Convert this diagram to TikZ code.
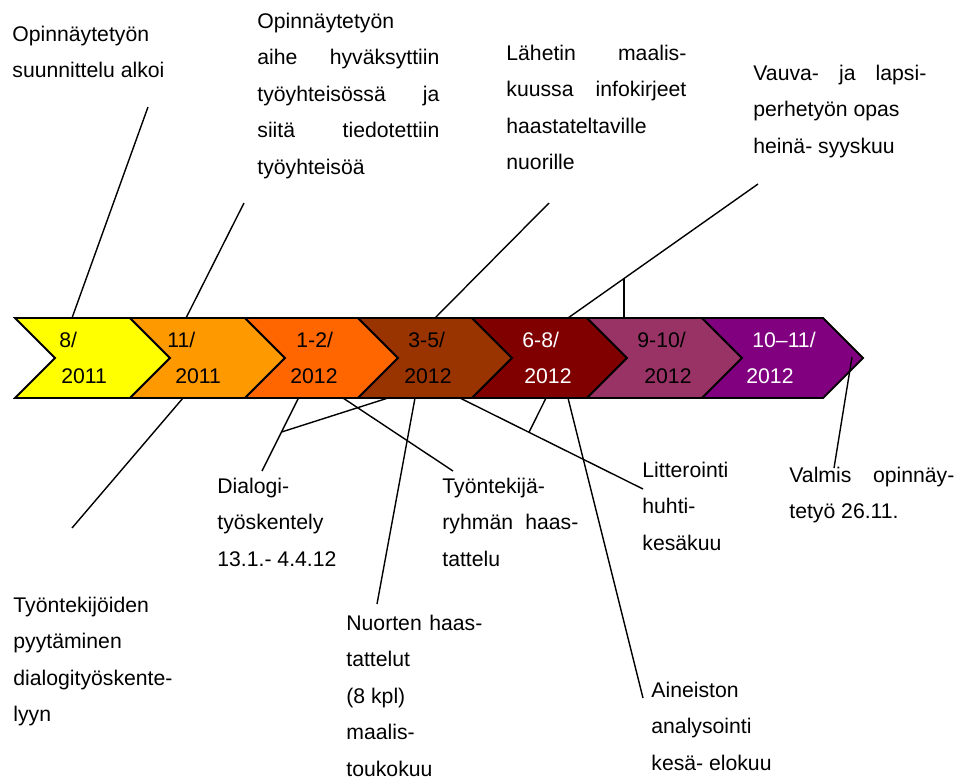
\documentclass[tikz,border=0pt]{standalone}
\usepackage{fontspec}
\setmainfont{Liberation Sans}
\usepackage{tikz}
\usetikzlibrary{calc}
\definecolor{chevA}{HTML}{FFFF00}
\definecolor{chevB}{HTML}{FF9900}
\definecolor{chevC}{HTML}{FF6600}
\definecolor{chevD}{HTML}{993300}
\definecolor{chevE}{HTML}{800000}
\definecolor{chevF}{HTML}{993366}
\definecolor{chevG}{HTML}{800080}
\newcommand\notefont{\fontsize{10.6}{18.25}\selectfont\tolerance=10000\hyphenpenalty=10000}
\tikzset{
	chevron/.style={draw=black, line width=0.9pt, line join=miter},
	datetext/.style={anchor=base west, inner sep=0pt, font=\notefont},
	note/.style={anchor=base west, inner sep=0pt, text width=#1, align=justify, font=\notefont},
	note/.default=90pt,
	link/.style={draw=black, line width=0.7pt},
}

\begin{document}
\begin{tikzpicture}[x=0.5pt, y=-0.5pt]
\useasboundingbox (0,0) rectangle (958,778);
% time band
\foreach \xl/\xr/\col in {15/130/chevA, 130/245/chevB, 245/358/chevC, 358/472/chevD, 472/587/chevE, 587/702/chevF, 702/823/chevG}
	\draw[chevron, fill=\col] (\xl,318) -- (\xr,318) -- (\xr+40,358) -- (\xr,398) -- (\xl,398) -- (\xl+40,358) -- cycle;
\foreach \xa/\ta/\xb/\tb/\tc [count=\i] in {59/{8/}/61/2011/black, 167/{11/}/175/2011/black, 296/{1-2/}/290/2012/black, 408/{3-5/}/404/2012/black, 522/{6-8/}/524/2012/white, 637/{9-10/}/644/2012/black, 752/{10–11/}/746/2012/white}{
	\node[datetext, text=\tc] (top\i) at (\xa,347) {\ta};
	\node[datetext, text=\tc] (bot\i) at (\xb,383) {\tb};
}

\node[note] (plan) at (12,41) {Opinnäytetyön\\ suunnittelu alkoi};
\node[note=91pt] (topic) at (257,28) {Opinnäytetyön\\ aihe hyväksyttiin\linebreak työyhteisössä ja\linebreak siitä tiedotettiin\linebreak työyhteisöä};
\node[note=90pt] (letters) at (506,60) {Lähetin maalis-\linebreak kuussa infokirjeet\linebreak haastateltaville\\ nuorille};
\node[note=86.5pt] (guide) at (753,80) {Vauva- ja lapsi-\linebreak perhetyön opas\\ heinä- syyskuu};
\node[note] (staff) at (13,612) {Työntekijöiden\\ pyytäminen\\ dialogityöskente-\\ lyyn};
\node[note] (dialog) at (217,493) {Dialogi-\\ työskentely\\ 13.1.- 4.4.12};
\node[note=68pt] (group) at (442,493) {Työntekijä-\\ ryhmän haas-\linebreak tattelu};
\node[note=68pt] (youth) at (346,630) {Nuorten haas-\linebreak tattelut\\ (8 kpl)\\ maalis-\\ toukokuu};
\node[note] (transcr) at (642,477) {Litterointi\\ huhti-\\ kesäkuu};
\node[note] (analysis) at (651,697) {Aineiston\\ analysointi\\ kesä- elokuu};
\node[note=82.5pt] (ready) at (789,482) {Valmis opinnäy-\linebreak tetyö 26.11.};

\coordinate (sA) at (72,318);    \coordinate (eA) at (148,107);
\coordinate (sB) at (186,318);   \coordinate (eB) at (244,203);
\coordinate (sC) at (435,318);   \coordinate (eC) at (549,203);
\coordinate (sD) at (568,318);   \coordinate (eD) at (758,184);
\coordinate (sE) at (183,398);   \coordinate (eE) at (72,528);
\coordinate (sF) at (298.5,398); \coordinate (eF) at (262,471);
\coordinate (sF2) at (388,398);
\coordinate (sG) at (343,398);   \coordinate (eG) at (453,471);
\coordinate (sH) at (415,398);   \coordinate (eH) at (377,604);
\coordinate (sI) at (460,398);   \coordinate (eI) at (643,489);
\coordinate (sI2) at (546,398);
\coordinate (sJ) at (568,398);   \coordinate (eJ) at (643,698);
\coordinate (sK) at (852,357);   \coordinate (eK) at (834,468);
\coordinate (jD) at ($(sD)!0.295!(eD)$);
\coordinate (jF) at ($(sF)!0.466!(eF)$);
\coordinate (jI) at ($(sI)!0.377!(eI)$);

\draw[link] (sA) -- (eA);
\draw[link] (sB) -- (eB);
\draw[link] (sC) -- (eC);
\draw[link] (sD) -- (eD);
\draw[link] (jD) -- (jD |- sD);
\draw[link] (sE) -- (eE);
\draw[link] (sF) -- (eF);
\draw[link] (jF) -- (sF2);
\draw[link] (sG) -- (eG);
\draw[link] (sH) -- (eH);
\draw[link] (sI) -- (eI);
\draw[link] (jI) -- (sI2);
\draw[link] (sJ) -- (eJ);
\draw[link] (sK) -- (eK);
\end{tikzpicture}
\end{document}
